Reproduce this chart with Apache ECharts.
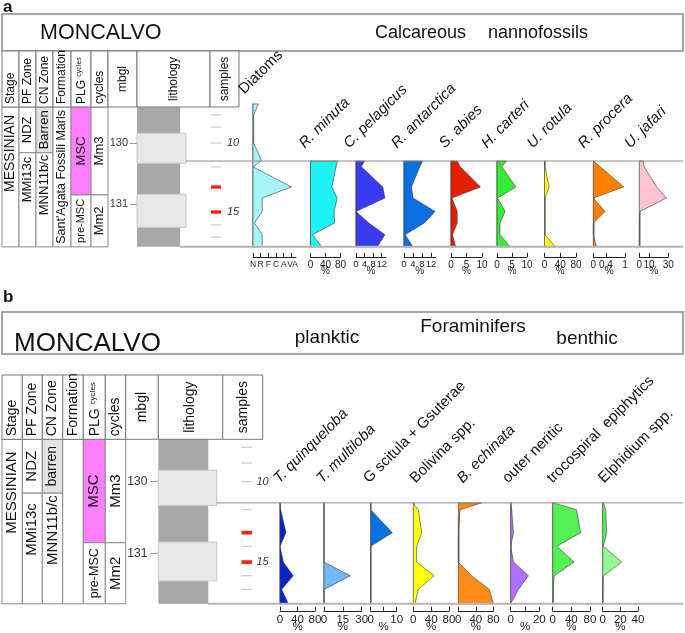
<!DOCTYPE html>
<html>
<head>
<meta charset="utf-8">
<script src="https://cdn.jsdelivr.net/npm/echarts@6.0.0/dist/echarts.min.js"></script>
<style>
html,body{margin:0;padding:0;background:#fff;}
#chart{width:685px;height:633px;}
</style>
</head>
<body>
<div id="chart"></div>
<script>
// ======================= DATA =======================
const stratTop = 129.41;
const stratBase = 131.70;
const plotTop = 130.295;
const diatomTop = 129.36;
const depthTicks = [130, 131];

const lithoTop  = [129.41, 129.84, 130.33, 130.84, 131.38];
const lithoBase = [129.84, 130.33, 130.84, 131.38, 131.70];
const lithoType = ['marl', 'laminite', 'marl', 'laminite', 'marl'];

const samplesA   = [129.54, 129.74, 130.00, 130.39, 130.72, 131.13, 131.34, 131.54];
const sampleNumA = ['', '', '10', '', '', '15', '', ''];
const sampleKeyA = [false, false, false, false, true, true, false, false];
const samplesB   = [129.52, 129.74, 130.00, 130.39, 130.71, 130.90, 131.12, 131.31, 131.50];
const sampleNumB = ['', '', '10', '', '', '', '15', '', ''];
const sampleKeyB = [false, false, false, false, true, false, true, false, false];

const stageZones = [[129.41, 131.70, 'MESSINIAN']];
const pfZones    = [[129.41, 130.16, 'NDZ'], [130.16, 131.70, 'MMi13c']];
const cnZonesA   = [[129.41, 130.16, 'Barren'], [130.16, 131.70, 'MNN11b/c']];
const cnZonesB   = [[129.41, 130.16, 'barren'], [130.16, 131.70, 'MNN11b/c']];
const formationA = [[129.41, 131.70, "Sant'Agata Fossili Marls"]];
const formationB = [[129.41, 131.70, '']];
const plgCycles  = [[129.41, 130.85, 'MSC'], [130.85, 131.70, 'pre-MSC']];
const cycleZones = [[129.41, 130.85, 'Mm3'], [130.85, 131.70, 'Mm2']];

const headerNames = ['Stage', 'PF Zone', 'CN Zone', 'Formation', 'PLG', 'cycles', 'mbgl', 'lithology', 'samples'];

// Diatoms (abundance classes)
const diatomClasses   = ['N', 'R', 'F', 'C', 'A', 'VA'];
const diatomClassPos  = [0, 1, 2, 3, 4, 5.15];
const diatomDepth     = [129.36, 129.54, 129.74, 130.00, 130.29, 130.39, 130.72, 130.90, 131.12, 131.31, 131.50, 131.70];
const diatomAbundance = [0.7, 0.1, 0.1, 0.1, 1.1, 0.0, 5.0, 1.2, 1.2, 0.2, 1.2, 1.2];

// Calcareous nannofossils (%)
const nannoDepth  = [130.295, 130.39, 130.72, 130.90, 131.12, 131.31, 131.50, 131.70];
const nannoNames  = ['R. minuta', 'C. pelagicus', 'R. antarctica', 'S. abies', 'H. carteri', 'U. rotula', 'R. procera', 'U. jafari'];
const rMinuta     = [72, 68, 57, 71, 63, 64, 5, 30];
const cPelagicus  = [4, 2.5, 12.5, 13.5, 0, 6, 13.5, 10];
const rAntarctica = [8.3, 7, 3.3, 4, 13.8, 9, 0.5, 4];
const sAbies      = [2, 3, 9.5, 0.3, 2, 2, 0.5, 1.5];
const hCarteri    = [3.2, 1.6, 6.3, 0.2, 2.7, 1, 1, 4.3];
const uRotula     = [0.5, 1, 12, 1, 1, 1, 1, 28];
const rProcera    = [0, 0.22, 0.96, 0, 0.37, 0, 0, 0.1];
const uJafari     = [4, 5, 18, 28, 0.5, 0, 0, 0];
const nannoMax    = [80, 14, 14, 10, 10, 80, 1, 30];
const nannoTicks  = [[0, 40, 80], [0, 4, 8, 12], [0, 4, 8, 12], [0, 5, 10], [0, 5, 10], [0, 40, 80], [0, 0.4, 1], [0, 10, 30]];

// Foraminifers (%)
const foramDepth   = [130.295, 130.39, 130.71, 130.90, 131.12, 131.31, 131.50, 131.70];
const foramNames   = ['T. quinqueloba', 'T. multiloba', 'G scitula + Gsuterae', 'Bolivina spp.', 'B. echinata', 'outer neritic', 'trocospiral  epiphytics', 'Elphidium spp.'];
const foramItalic  = [true, true, false, false, true, false, false, false];
const tQuinqueloba = [0, 1.5, 13.7, 0, 7.6, 30, 4, 19];
const tMultiloba   = [0, 0, 0, 0, 0, 21, 0, 0];
const gScitula     = [0, 0, 8.3, 0, 0, 0, 0, 0];
const bolivina     = [0, 11, 19, 7.5, 7.5, 47, 11, 4];
const bEchinata    = [53, 4, 0, 0, 0, 30, 71, 80];
const outerNeritic = [0, 0.7, 1.9, 0, 1.9, 12.4, 5.4, 0];
const trocospiral  = [1.4, 51, 60, 8.6, 46, 3, 1.4, 1.4];
const elphidium    = [0.8, 3.4, 4.5, 0.8, 21.5, 0.8, 0, 0];
const foramMax     = [80, 30, 10, 80, 80, 20, 80, 40];
const foramTicks   = [[0, 40, 80], [0, 15, 30], [0, 5, 10], [0, 40, 80], [0, 40, 80], [0, 10, 20], [0, 40, 80], [0, 20, 40]];
const foramLabels  = [[0, 40, 80], [0, 15, 30], [0, 10], [0, 40, 80], [0, 40, 80], [0, 20], [0, 40, 80], [0, 20, 40]];

// ======================= STYLE / LAYOUT =======================
const FONT = 'Liberation Sans, Arial, Helvetica, sans-serif';
const NARROW = 'Liberation Sans Narrow, Arial Narrow, Liberation Sans, sans-serif';
const nannoColors = ['#1ef2f2', '#3a3af0', '#0a6fe0', '#e02000', '#33ee33', '#ffff10', '#ff8000', '#ffc4cc'];
const foramColors = ['#0a24c8', '#70b8ff', '#0a6fe0', '#ffff10', '#ff8c1a', '#b070ff', '#55f055', '#94f794'];
const elphidiumUpperColor = '#5cee5c';
const elphidiumColorSplit = 130.90;
const diatomColor = '#a6f6f9';

const PA = {
  y130: 143, pxPerM: 61.1,
  edges: [2, 19, 36, 53, 71, 91, 108, 137, 210, 239],
  headTop: 51, headBottom: 107, headFont: 12, headSmall: 7, headPad: 3,
  cellFont: {'MESSINIAN': 14, 'pre-MSC': 11, "Sant'Agata Fossili Marls": 12.5}, cellFontDef: 13,
  cellPad: {'MESSINIAN': 8, 'MMi13c': 4, 'MNN11b/c': 2},
  lithoLeft: 137, lithoWidth: 49, lithoDark: 0.878,
  depthTickLen: 7, depthMargin: 9, depthFont: 11,
  sampleLeft: 211, sampleWidth: 10, sampleGap: 6, redH: 3.3,
  axisOffset: 10, tickFont: 10, nameGap: 9,
  lineTopX: 186, lineBotX: 180
};
const PB = {
  y130: 481.7, pxPerM: 71.8,
  edges: [2, 22.3, 42.3, 62.7, 83.3, 105.3, 125.7, 158.3, 222.7, 262.7],
  headTop: 375, headBottom: 439.3, headFont: 14, headSmall: 8, headPad: 3,
  cellFont: {'MESSINIAN': 15, 'pre-MSC': 12.5, 'barren': 14}, cellFontDef: 15,
  cellPad: {'MESSINIAN': 12, 'MMi13c': 10, 'MNN11b/c': 2},
  lithoLeft: 158.3, lithoWidth: 58.4, lithoDark: 0.856,
  depthTickLen: 8, depthMargin: 11, depthFont: 12,
  sampleLeft: 241.5, sampleWidth: 10.5, sampleGap: 4.5, redH: 3.7,
  axisOffset: 7, tickFont: 11.5, nameGap: 10,
  lineTopX: 216.7, lineBotX: 208
};
const nannoLeft  = [310.5, 356, 404, 451, 497, 544.5, 593.3, 639.3];
const nannoWidth = [30, 30, 31.5, 31, 30, 31.5, 31.7, 29];
const nannoLabelX = [307, 351.7, 399.3, 447, 489.3, 535, 586, 632.7];
const foramLeft  = [280, 324, 370.7, 413.3, 458.3, 510.7, 552.7, 602.7];
const foramWidth = [35, 37.7, 26, 35.7, 35, 28.6, 37.3, 35.3];
const foramLabelX = [281.5, 324.5, 371.5, 418, 465, 510.5, 555, 606.5];

function ypx(P, d) { return P.y130 + (d - 130) * P.pxPerM; }

const grids = [], xAxes = [], yAxes = [], series = [], gfx = [];

function addGrid(g, x, y) {
  const i = grids.length;
  grids.push(Object.assign({outerBoundsMode: 'none', containLabel: false}, g));
  xAxes.push(Object.assign({gridIndex: i, type: 'value', show: false, splitLine: {show: false}}, x));
  yAxes.push(Object.assign({gridIndex: i, type: 'value', inverse: true, show: false, splitLine: {show: false}}, y));
  return i;
}

function txt(x, y, text, o) {
  o = o || {};
  const align = o.align || 'left', va = o.va || 'middle';
  return {type: 'text', x: x, y: y, rotation: o.rot || 0, z: o.z || 20,
    style: {text: text, fontSize: o.size || 12, fontFamily: o.family || FONT, fontStyle: o.italic ? 'italic' : 'normal',
      fontWeight: o.bold ? 'bold' : 'normal', fill: o.color || '#111',
      align: align, verticalAlign: va, textAlign: align, textVerticalAlign: va, rich: o.rich}};
}

function addProfile(P, left, width, topDepth, depths, vals, max, ticks, labels, fill, opt) {
  opt = opt || {};
  const top = ypx(P, topDepth), bottom = ypx(P, stratBase);
  const gi = addGrid({left: left, top: top, width: width, height: bottom - top},
    {show: true, min: 0, max: max, position: 'bottom', offset: P.axisOffset,
     axisLine: {show: true, onZero: false, lineStyle: {color: '#222', width: 1}},
     axisTick: {show: true, inside: true, length: 4, customValues: ticks, lineStyle: {color: '#222', width: 1}},
     axisLabel: {show: true, interval: 0, customValues: labels, formatter: opt.fmt, fontSize: opt.labelSize || P.tickFont, color: '#222', margin: 3,
       fontFamily: NARROW, hideOverlap: false, showMinLabel: true, showMaxLabel: true},
     name: opt.name === undefined ? '%' : opt.name, nameLocation: 'middle', nameGap: P.nameGap, nameMoveOverlap: false,
     nameTextStyle: {fontSize: P.tickFont, color: '#222', fontFamily: FONT}},
    {show: true, min: topDepth, max: stratBase,
     axisLine: {show: true, onZero: false, lineStyle: {color: '#9a9a9a', width: 1.5}},
     axisTick: {show: false}, axisLabel: {show: false}});
  series.push({type: 'custom', xAxisIndex: gi, yAxisIndex: gi, clip: false, silent: true,
    data: depths.map((d, i) => [vals[i], d]), encode: {x: 0, y: 1},
    renderItem: function (params, api) {
      if (params.dataIndex !== 0) return null;
      const pts = [api.coord([0, depths[0]])];
      for (let i = 0; i < depths.length; i++) pts.push(api.coord([vals[i], depths[i]]));
      pts.push(api.coord([0, depths[depths.length - 1]]));
      let paint = fill;
      if (opt.split) {
        const y0 = pts[0][1], y1 = pts[pts.length - 1][1];
        const ys = api.coord([0, opt.split.depth])[1];
        const f = Math.max(0, Math.min(1, (ys - y0) / (y1 - y0)));
        paint = {type: 'linear', x: 0, y: y0, x2: 0, y2: y1, global: true,
          colorStops: [{offset: 0, color: opt.split.upper}, {offset: f, color: opt.split.upper}, {offset: f, color: fill}, {offset: 1, color: fill}]};
      }
      return {type: 'polygon', shape: {points: pts}, style: {fill: paint, stroke: '#3a3a3a', lineWidth: 0.6}};
    }});
}

function addTable(P, columns) {
  const e = P.edges;
  const left = e[0], width = e[6] - e[0];
  const top = ypx(P, stratTop), bottom = ypx(P, stratBase);
  const gi = addGrid({left: left, top: top, width: width, height: bottom - top}, {min: 0, max: width}, {min: stratTop, max: stratBase});
  columns.forEach(function (zones, col) {
    const x0 = e[col] - e[0], x1 = e[col + 1] - e[0];
    series.push({type: 'custom', xAxisIndex: gi, yAxisIndex: gi, clip: false, silent: true,
      data: zones.map(z => [x0, z[0], x1, z[1]]),
      renderItem: function (params, api) {
        const z = zones[params.dataIndex];
        const a = api.coord([x0, z[0]]), b = api.coord([x1, z[1]]);
        const name = z[2];
        const fill = name === 'MSC' ? '#ff80ff' : (name.toLowerCase() === 'barren' ? '#e3e3e3' : '#ffffff');
        const ch = [{type: 'rect', shape: {x: a[0], y: a[1], width: b[0] - a[0], height: b[1] - a[1]},
          style: {fill: fill, stroke: '#8a8a8a', lineWidth: 1}}];
        if (name) {
          const size = P.cellFont[name] || P.cellFontDef;
          const pad = P.cellPad[name];
          const cx = (a[0] + b[0]) / 2;
          const align = pad != null ? 'right' : 'center';
          const ty = pad != null ? a[1] + pad : (a[1] + b[1]) / 2;
          ch.push({type: 'text', x: cx, y: ty, rotation: Math.PI / 2,
            style: {text: name, fontSize: size, fontFamily: FONT, fill: '#111', align: align, verticalAlign: 'middle', textAlign: align, textVerticalAlign: 'middle'}});
        }
        return {type: 'group', children: ch};
      }});
  });
}

function addHeader(P) {
  const e = P.edges;
  for (let i = 0; i < 9; i++) {
    gfx.push({type: 'rect', z: 20, shape: {x: e[i], y: P.headTop, width: e[i + 1] - e[i], height: P.headBottom - P.headTop},
      style: {fill: '#fff', stroke: '#777', lineWidth: 1}});
    const cx = (e[i] + e[i + 1]) / 2;
    if (i < 6) {
      if (headerNames[i] === 'PLG') {
        gfx.push(txt(cx + 1, P.headBottom - P.headPad, '{a|PLG} {b|cycles}', {rot: Math.PI / 2, size: P.headFont,
          rich: {a: {fontSize: P.headFont, fontFamily: FONT, fill: '#111'}, b: {fontSize: P.headSmall, fontFamily: FONT, fill: '#111', padding: [0, 0, 5, 0]}}}));
      } else {
        gfx.push(txt(cx, P.headBottom - P.headPad, headerNames[i], {rot: Math.PI / 2, size: P.headFont}));
      }
    } else {
      gfx.push(txt(cx, (P.headTop + P.headBottom) / 2, headerNames[i], {rot: Math.PI / 2, size: P.headFont, align: 'center'}));
    }
  }
}

function addLitho(P) {
  const top = ypx(P, stratTop), bottom = ypx(P, stratBase);
  const gi = addGrid({left: P.lithoLeft, top: top, width: P.lithoWidth, height: bottom - top},
    {min: 0, max: 1},
    {show: true, min: stratTop, max: stratBase, position: 'left',
     axisLine: {show: false}, axisTick: {show: true, customValues: depthTicks, length: P.depthTickLen, lineStyle: {color: '#999'}},
     axisLabel: {show: true, customValues: depthTicks, margin: P.depthMargin, fontSize: P.depthFont, color: '#333', fontFamily: NARROW}});
  series.push({type: 'custom', xAxisIndex: gi, yAxisIndex: gi, clip: false, silent: true, z: 1,
    data: lithoTop.map((t, i) => [0, t, 1, lithoBase[i]]),
    renderItem: function (params, api) {
      const i = params.dataIndex;
      const w = lithoType[i] === 'marl' ? P.lithoDark : 1;
      const a = api.coord([0, lithoTop[i]]), b = api.coord([w, lithoBase[i]]);
      const isMarl = lithoType[i] === 'marl';
      return {type: 'rect', shape: {x: a[0], y: a[1], width: b[0] - a[0], height: b[1] - a[1]},
        style: {fill: isMarl ? '#a8a8a8' : '#e8e8e8', stroke: isMarl ? null : '#c6c6c6', lineWidth: 1}, z2: isMarl ? 0 : 1};
    }});
}

function addSamples(P, depths, nums, keys) {
  const top = ypx(P, stratTop), bottom = ypx(P, stratBase);
  const gi = addGrid({left: P.sampleLeft, top: top, width: P.sampleWidth, height: bottom - top}, {min: 0, max: 1}, {min: stratTop, max: stratBase});
  series.push({type: 'custom', xAxisIndex: gi, yAxisIndex: gi, clip: false, silent: true,
    data: depths.map(d => [0, d]),
    renderItem: function (params, api) {
      const i = params.dataIndex;
      const a = api.coord([0, depths[i]]), b = api.coord([1, depths[i]]);
      const ch = [];
      if (keys[i]) ch.push({type: 'rect', shape: {x: a[0], y: a[1] - P.redH / 2, width: b[0] - a[0], height: P.redH}, style: {fill: '#ff2400'}});
      else ch.push({type: 'line', shape: {x1: a[0], y1: a[1], x2: b[0], y2: b[1]}, style: {stroke: '#c0c0c0', lineWidth: 1}});
      if (nums[i]) ch.push({type: 'text', x: b[0] + P.sampleGap, y: a[1],
        style: {text: nums[i], fontSize: 11, fontStyle: 'italic', fontFamily: FONT, fill: '#333', align: 'left', verticalAlign: 'middle', textAlign: 'left', textVerticalAlign: 'middle'}});
      return {type: 'group', children: ch};
    }});
}

function frameLines(P) {
  gfx.push({type: 'line', z: 30, shape: {x1: P.lineTopX, y1: ypx(P, plotTop), x2: 683, y2: ypx(P, plotTop)}, style: {stroke: '#8c8c8c', lineWidth: 1}});
  gfx.push({type: 'line', z: 30, shape: {x1: P.lineBotX, y1: ypx(P, stratBase), x2: 683, y2: ypx(P, stratBase)}, style: {stroke: '#b4b4b4', lineWidth: 2}});
}

// ---------------- Panel a ----------------
gfx.push(txt(3, 7, 'a', {size: 17, bold: true}));
gfx.push({type: 'rect', z: 10, shape: {x: 2, y: 14, width: 681, height: 37}, style: {fill: 'none', stroke: '#888', lineWidth: 1.5}});
gfx.push(txt(40, 33, 'MONCALVO', {size: 21.5}));
gfx.push(txt(375, 33, 'Calcareous', {size: 18}));
gfx.push(txt(488, 33, 'nannofossils', {size: 18}));
addHeader(PA);
addTable(PA, [stageZones, pfZones, cnZonesA, formationA, plgCycles, cycleZones]);
addLitho(PA);
addSamples(PA, samplesA, sampleNumA, sampleKeyA);
addProfile(PA, 253, 43, diatomTop, diatomDepth, diatomAbundance, 5.6, [0, 1, 2, 3, 4, 5], diatomClassPos, diatomColor,
  {name: '', fmt: function (v) { return diatomClasses[Math.round(v)]; }, labelSize: 8.5});
gfx.push(txt(246.7, 97, 'Diatoms', {rot: Math.PI / 4, size: 15, va: 'bottom'}));
const nannoData = [rMinuta, cPelagicus, rAntarctica, sAbies, hCarteri, uRotula, rProcera, uJafari];
nannoData.forEach(function (vals, i) {
  addProfile(PA, nannoLeft[i], nannoWidth[i], plotTop, nannoDepth, vals, nannoMax[i], nannoTicks[i], nannoTicks[i], nannoColors[i],
    {labelSize: i === 1 || i === 2 ? 9.5 : PA.tickFont});
  gfx.push(txt(nannoLabelX[i], 151, nannoNames[i], {rot: Math.PI / 4, size: 15, italic: true, va: 'bottom'}));
});
frameLines(PA);

// ---------------- Panel b ----------------
gfx.push(txt(3, 297, 'b', {size: 17, bold: true}));
gfx.push({type: 'rect', z: 10, shape: {x: 2, y: 312, width: 681, height: 42}, style: {fill: 'none', stroke: '#888', lineWidth: 1.5}});
gfx.push(txt(14, 344, 'MONCALVO', {size: 26}));
gfx.push(txt(327, 338, 'planktic', {size: 19, align: 'center'}));
gfx.push(txt(473, 327, 'Foraminifers', {size: 19, align: 'center'}));
gfx.push(txt(587, 339, 'benthic', {size: 19, align: 'center'}));
addHeader(PB);
addTable(PB, [stageZones, pfZones, cnZonesB, formationB, plgCycles, cycleZones]);
addLitho(PB);
addSamples(PB, samplesB, sampleNumB, sampleKeyB);
const foramData = [tQuinqueloba, tMultiloba, gScitula, bolivina, bEchinata, outerNeritic, trocospiral, elphidium];
foramData.forEach(function (vals, i) {
  const opt = i === 7 ? {split: {depth: elphidiumColorSplit, upper: elphidiumUpperColor}} : {};
  addProfile(PB, foramLeft[i], foramWidth[i], plotTop, foramDepth, vals, foramMax[i], foramTicks[i], foramLabels[i], foramColors[i], opt);
  gfx.push(txt(foramLabelX[i], 486, foramNames[i], {rot: Math.PI / 4, size: 15, italic: foramItalic[i], va: 'bottom'}));
});
frameLines(PB);

const chart = echarts.init(document.getElementById('chart'), null, {renderer: 'canvas', width: 685, height: 633});
chart.setOption({
  backgroundColor: '#ffffff',
  animation: false,
  grid: grids,
  xAxis: xAxes,
  yAxis: yAxes,
  series: series,
  graphic: {elements: gfx}
});
</script>
</body>
</html>
